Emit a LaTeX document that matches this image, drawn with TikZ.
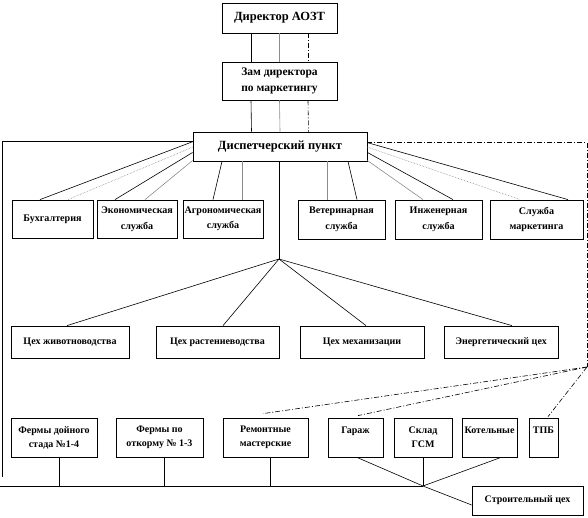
\documentclass[tikz,border=0pt]{standalone}
\usepackage{fontspec}
\setmainfont{Liberation Serif}
\usetikzlibrary{calc}
\definecolor{linegray}{HTML}{8C8C8C}

\begin{document}
\begin{tikzpicture}[x=1pt,y=-1pt,
    unit/.style={draw,line width=0.8pt,inner sep=1pt,align=center,font=\bfseries\fontsize{10}{14}\selectfont},
    srv/.style={unit,font=\bfseries\fontsize{10.1}{15.5}\selectfont},
    link/.style={line width=0.6pt},
    aux/.style={line width=0.6pt,linegray},
    dotl/.style={line width=0.6pt,linegray,densely dotted},
    ctrl/.style={line width=0.6pt,dash pattern=on 5pt off 2pt on 1pt off 2pt}
]
\useasboundingbox (0,0) rectangle (588,518);

% management
\node[unit,minimum width=115,minimum height=30,font=\bfseries\fontsize{12.5}{14}\selectfont] (dir) at (279.5,18) {Директор АОЗТ};
\node[unit,minimum width=115,minimum height=38,font=\bfseries\fontsize{11.5}{14}\selectfont] (zam) at (279.5,81)
  {Зам директора\\[2pt]по маркетингу};
\node[unit,minimum width=174,minimum height=29,font=\bfseries\fontsize{12.5}{14}\selectfont] (disp) at (280,146.5) {Диспетчерский пункт};

% services
\node[srv,minimum width=81,minimum height=38] (buh) at (52.5,219) {Бухгалтерия};
\node[srv,minimum width=80,minimum height=38] (econ) at (137,219) {Экономическая\\служба};
\node[srv,minimum width=80,minimum height=38] (agro) at (223,219) {Агрономическая\\служба};
\node[srv,minimum width=87,minimum height=39] (vet) at (341.5,219.5) {Ветеринарная\\служба};
\node[srv,minimum width=87,minimum height=39] (inzh) at (438.5,219.5) {Инженерная\\служба};
\node[srv,minimum width=93,minimum height=39] (mark) at (536.5,219.5) {Служба\\маркетинга};

% shops
\node[unit,minimum width=118,minimum height=32] (zhiv) at (70,342) {Цех животноводства};
\node[unit,minimum width=123,minimum height=32] (rast) at (217.5,342) {Цех растениеводства};
\node[unit,minimum width=124,minimum height=32] (mekh) at (362,342) {Цех механизации};
\node[unit,minimum width=114,minimum height=32] (energ) at (501,342) {Энергетический цех};

% units
\node[unit,minimum width=86,minimum height=39] (ferm1) at (54,437.5) {Фермы дойного\\стада №1-4};
\node[unit,minimum width=87,minimum height=39] (ferm2) at (159.5,437.5) {Фермы по\\откорму № 1-3};
\node[unit,minimum width=85,minimum height=39] (rem) at (265.5,437.5) {Ремонтные\\мастерские};
\node[unit,minimum width=55,minimum height=39] (garazh) at (355.5,437.5) {Гараж\\\mbox{}};
\node[unit,minimum width=58,minimum height=39] (sklad) at (423,437.5) {Склад\\ГСМ};
\node[unit,minimum width=55,minimum height=39] (kotel) at (489.5,437.5) {Котельные\\\mbox{}};
\node[unit,minimum width=29,minimum height=39] (tpb) at (543.5,437.5) {ТПБ\\\mbox{}};
\node[unit,minimum width=111,minimum height=29] (stroy) at (527.5,500.5) {Строительный цех};

\coordinate (fan) at (279,259);
\coordinate (hub) at (423,486);
\coordinate (busL) at (0,486);
\coordinate (lowL) at (2,477);
\coordinate (cv) at (587,367);

% director -> deputy -> dispatcher
\draw[link] ([xshift=-28.5]dir.south) -- ([xshift=-28.5]zam.north);
\draw[aux] (dir.south) -- (zam.north);
\draw[ctrl] ([xshift=28.5]dir.south) -- ([xshift=28.5]zam.north);
\draw[link] ([xshift=-28.5]zam.south) -- ([xshift=-28.5]disp.north);
\draw[aux] (zam.south) -- (disp.north);
\draw[ctrl] ([xshift=28.5]zam.south) -- ([xshift=28.5]disp.north);

% dispatcher -> services
\draw[link] ($(disp.north west)!0.34!(disp.south west)$) -- ([xshift=-12.5]buh.north);
\draw[dotl] ($(disp.north west)!0.52!(disp.south west)$) -- ([xshift=15.5]buh.north);
\draw[link] ($(disp.north west)!0.7!(disp.south west)$) -- ([xshift=-22]econ.north);
\draw[aux] ($(disp.north west)!0.97!(disp.south west)$) -- ([xshift=8]econ.north);
\draw[link] ([xshift=-58]disp.south) -- ([xshift=-10]agro.north);
\draw[aux] ([xshift=-38]disp.south) -- ([xshift=19]agro.north);
\draw[aux] ([xshift=47]disp.south) -- ([xshift=-14.5]vet.north);
\draw[link] ([xshift=68]disp.south) -- ([xshift=15.5]vet.north);
\draw[aux] ($(disp.north east)!0.97!(disp.south east)$) -- ([xshift=-15.5]inzh.north);
\draw[link] ($(disp.north east)!0.7!(disp.south east)$) -- ([xshift=14.5]inzh.north);
\draw[dotl] ($(disp.north east)!0.52!(disp.south east)$) -- ([xshift=-16.5]mark.north);
\draw[link] ($(disp.north east)!0.37!(disp.south east)$) -- ([xshift=31.5]mark.north);

% dispatcher -> shops
\draw[link] ([xshift=-1]disp.south) -- (fan);
\draw[link] (fan) -- ([xshift=-3]zhiv.north);
\draw[link] (fan) -- ([xshift=5.5]rast.north);
\draw[link] (fan) -- ([xshift=4]mekh.north);
\draw[link] (fan) -- ([xshift=11]energ.north);

% outer lines
\draw[link] ($(disp.north west)!0.31!(disp.south west)$) -| (lowL);
\draw[ctrl] ($(disp.north east)!0.37!(disp.south east)$) -| (cv);
\draw[ctrl] (cv) -- ([shift={(-2.5,-4)}]rem.north);
\draw[ctrl] (cv) -- ([shift={(2.5,-2)}]garazh.north);
\draw[ctrl] (cv) -- ([shift={(4.5,-1)}]tpb.north);

% bus
\draw[link] (busL) -- (hub);
\draw[link] ([xshift=5]ferm1.south) -- ([xshift=5]ferm1.south |- hub);
\draw[link] ([xshift=4.5]ferm2.south) -- ([xshift=4.5]ferm2.south |- hub);
\draw[link] ([xshift=4.5]rem.south) -- ([xshift=4.5]rem.south |- hub);
\draw[link] ([xshift=1.5]garazh.south) -- (hub);
\draw[link] (sklad.south) -- (hub);
\draw[link] ([xshift=11.5]kotel.south) -- (hub);
\draw[link] (hub) -- ($(stroy.north west)!0.65!(stroy.south west)$);
\end{tikzpicture}
\end{document}
